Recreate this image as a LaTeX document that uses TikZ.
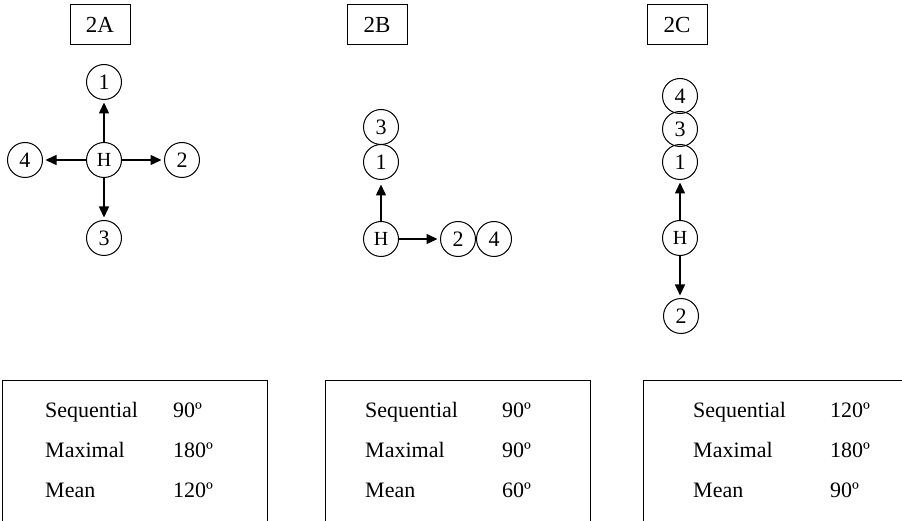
\documentclass[tikz,border=0pt]{standalone}
\usepackage{fontspec}
\setmainfont{Liberation Serif}
\usetikzlibrary{arrows.meta}
\begin{document}
\begin{tikzpicture}[x=1pt,y=-1pt,
  cnode/.style={circle,draw,line width=1pt,minimum size=35pt,inner sep=0pt,font=\fontsize{22}{24}\selectfont},
  hnode/.style={cnode,font=\fontsize{20}{22}\selectfont},
  lbl/.style={draw,line width=1pt,minimum width=60pt,minimum height=40pt,inner sep=0pt,font=\fontsize{23}{25}\selectfont},
  arr/.style={line width=1.5pt,-{Triangle[length=11pt,width=10pt]},shorten >=2.5pt},
  frame/.style={line width=1pt},
  txt/.style={anchor=base west,inner sep=0pt,font=\fontsize{22}{24}\selectfont}]
\useasboundingbox (0,0) rectangle (902,521);
% labels
\node[lbl] (la) at (100,25) {2A};
\node[lbl] (lb) at (377,25) {2B};
\node[lbl] (lc) at (677,25) {2C};
% 2A
\node[hnode] (aH) at (104,160) {H};
\node[cnode] (a1) at (104,82) {1};
\node[cnode] (a2) at (182,160) {2};
\node[cnode] (a3) at (104,238) {3};
\node[cnode] (a4) at (25,160) {4};
\draw[arr] (aH) -- (a1);
\draw[arr] (aH) -- (a2);
\draw[arr] (aH) -- (a3);
\draw[arr] (aH) -- (a4);
% 2B
\node[hnode] (bH) at (381,239) {H};
\node[cnode] (b1) at (381,162) {1};
\node[cnode] (b3) at (381,127) {3};
\node[cnode] (b2) at (458,239) {2};
\node[cnode] (b4) at (494,239) {4};
\draw[arr,shorten >=4.5pt] (bH) -- (b1);
\draw[arr] (bH) -- (b2);
% 2C
\node[hnode] (cH) at (680,238) {H};
\node[cnode] (c1) at (680,162) {1};
\node[cnode] (c3) at (680,129) {3};
\node[cnode] (c4) at (680,96) {4};
\node[cnode] (c2) at (681,316) {2};
\draw[arr] (cH) -- (c1);
\draw[arr] (cH) -- (cH |- c2.north);
% tables
\draw[frame] (2,521) -- (2,380) -- (267,380) -- (267,521);
\draw[frame] (325,521) -- (325,380) -- (590,380) -- (590,521);
\draw[frame] (643,521) -- (643,380) -- (902,380);
\node[txt] (t1s) at (45,417) {Sequential};
\node[txt] (t1sv) at (173,417) {90º};
\node[txt] (t1m) at (45,457) {Maximal};
\node[txt] (t1mv) at (173,457) {180º};
\node[txt] (t1e) at (45,497) {Mean};
\node[txt] (t1ev) at (173,497) {120º};
\node[txt] (t2s) at (365,417) {Sequential};
\node[txt] (t2sv) at (502,417) {90º};
\node[txt] (t2m) at (365,457) {Maximal};
\node[txt] (t2mv) at (502,457) {90º};
\node[txt] (t2e) at (365,497) {Mean};
\node[txt] (t2ev) at (502,497) {60º};
\node[txt] (t3s) at (693,417) {Sequential};
\node[txt] (t3sv) at (830,417) {120º};
\node[txt] (t3m) at (693,457) {Maximal};
\node[txt] (t3mv) at (830,457) {180º};
\node[txt] (t3e) at (693,497) {Mean};
\node[txt] (t3ev) at (830,497) {90º};
\end{tikzpicture}
\end{document}
